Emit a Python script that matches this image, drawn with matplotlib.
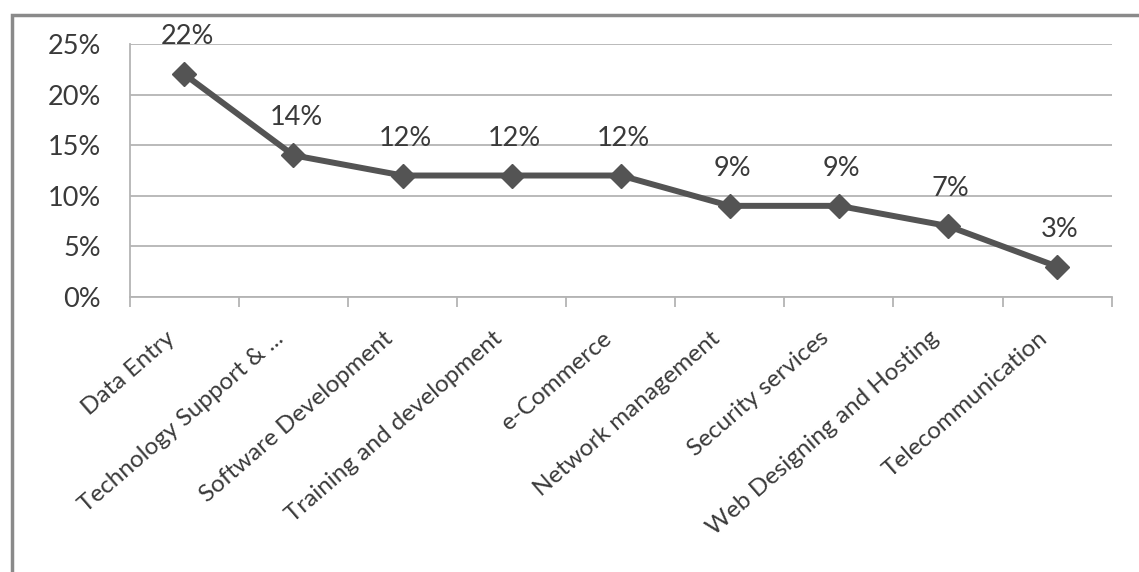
import matplotlib.pyplot as plt
import matplotlib.transforms as mtransforms
from matplotlib.patches import Rectangle
from matplotlib.ticker import FuncFormatter

# Share of IT outsourcing by service area
categories = ['Data Entry', 'Technology Support & ...', 'Software Development',
              'Training and development', 'e-Commerce', 'Network management',
              'Security services', 'Web Designing and Hosting', 'Telecommunication']
shares = [22, 14, 12, 12, 12, 9, 9, 7, 3]
y_ticks = [0, 5, 10, 15, 20, 25]

plt.rcParams['font.family'] = ['Lato', 'DejaVu Sans']
text_col = '#3a3a3a'
line_col = '#545454'
grid_col = '#b4b4b4'

fig = plt.figure(figsize=(11.39, 5.72), dpi=100)
ax = fig.add_axes([0.114, 0.481, 0.862, 0.442])

# chart frame
fig.patches.append(Rectangle((12 / 1139, -0.1), 1.2, 1 - 15 / 572 + 0.1,
                             transform=fig.transFigure, fill=False,
                             edgecolor='#8a8a8a', linewidth=2.5))

x = list(range(len(categories)))
ax.plot(x, shares, color=line_col, linewidth=4.3, marker='D',
        markersize=12, markerfacecolor=line_col, markeredgecolor=line_col,
        zorder=3)

for xi, v in zip(x, shares):
    ax.annotate(f'{v}%', (xi, v), xytext=(2, 27), textcoords='offset points',
                ha='center', va='center', fontsize=19.5, color=text_col)

ax.set_xlim(-0.5, len(categories) - 0.5)
ax.set_ylim(0, 25)
ax.set_yticks(y_ticks)
ax.yaxis.set_major_formatter(FuncFormatter(lambda v, p: f'{v:.0f}%'))
ax.yaxis.grid(True, color=grid_col, linewidth=1.3)
ax.set_axisbelow(True)

# category labels, slanted, hung just left of each category centre
ax.set_xticks([i - 0.5 for i in range(len(categories) + 1)])
ax.set_xticklabels([])
ax.tick_params(axis='x', length=7, color=grid_col, width=1.3)
shift = mtransforms.ScaledTranslation(-14 / 72, -22 / 72, fig.dpi_scale_trans)
for xi, name in zip(x, categories):
    ax.text(xi, 0, name, transform=ax.get_xaxis_transform() + shift,
            rotation=41, rotation_mode='anchor', ha='right', va='top',
            fontsize=17.5, color=text_col, clip_on=False)

ax.tick_params(axis='y', length=0, pad=21, labelsize=19.5, labelcolor=text_col)

for side in ['top', 'right']:
    ax.spines[side].set_visible(False)
ax.spines['left'].set_color(grid_col)
ax.spines['bottom'].set_color(grid_col)
ax.spines['left'].set_linewidth(1.3)
ax.spines['bottom'].set_linewidth(1.3)

fig.savefig('out.png', dpi=100)
